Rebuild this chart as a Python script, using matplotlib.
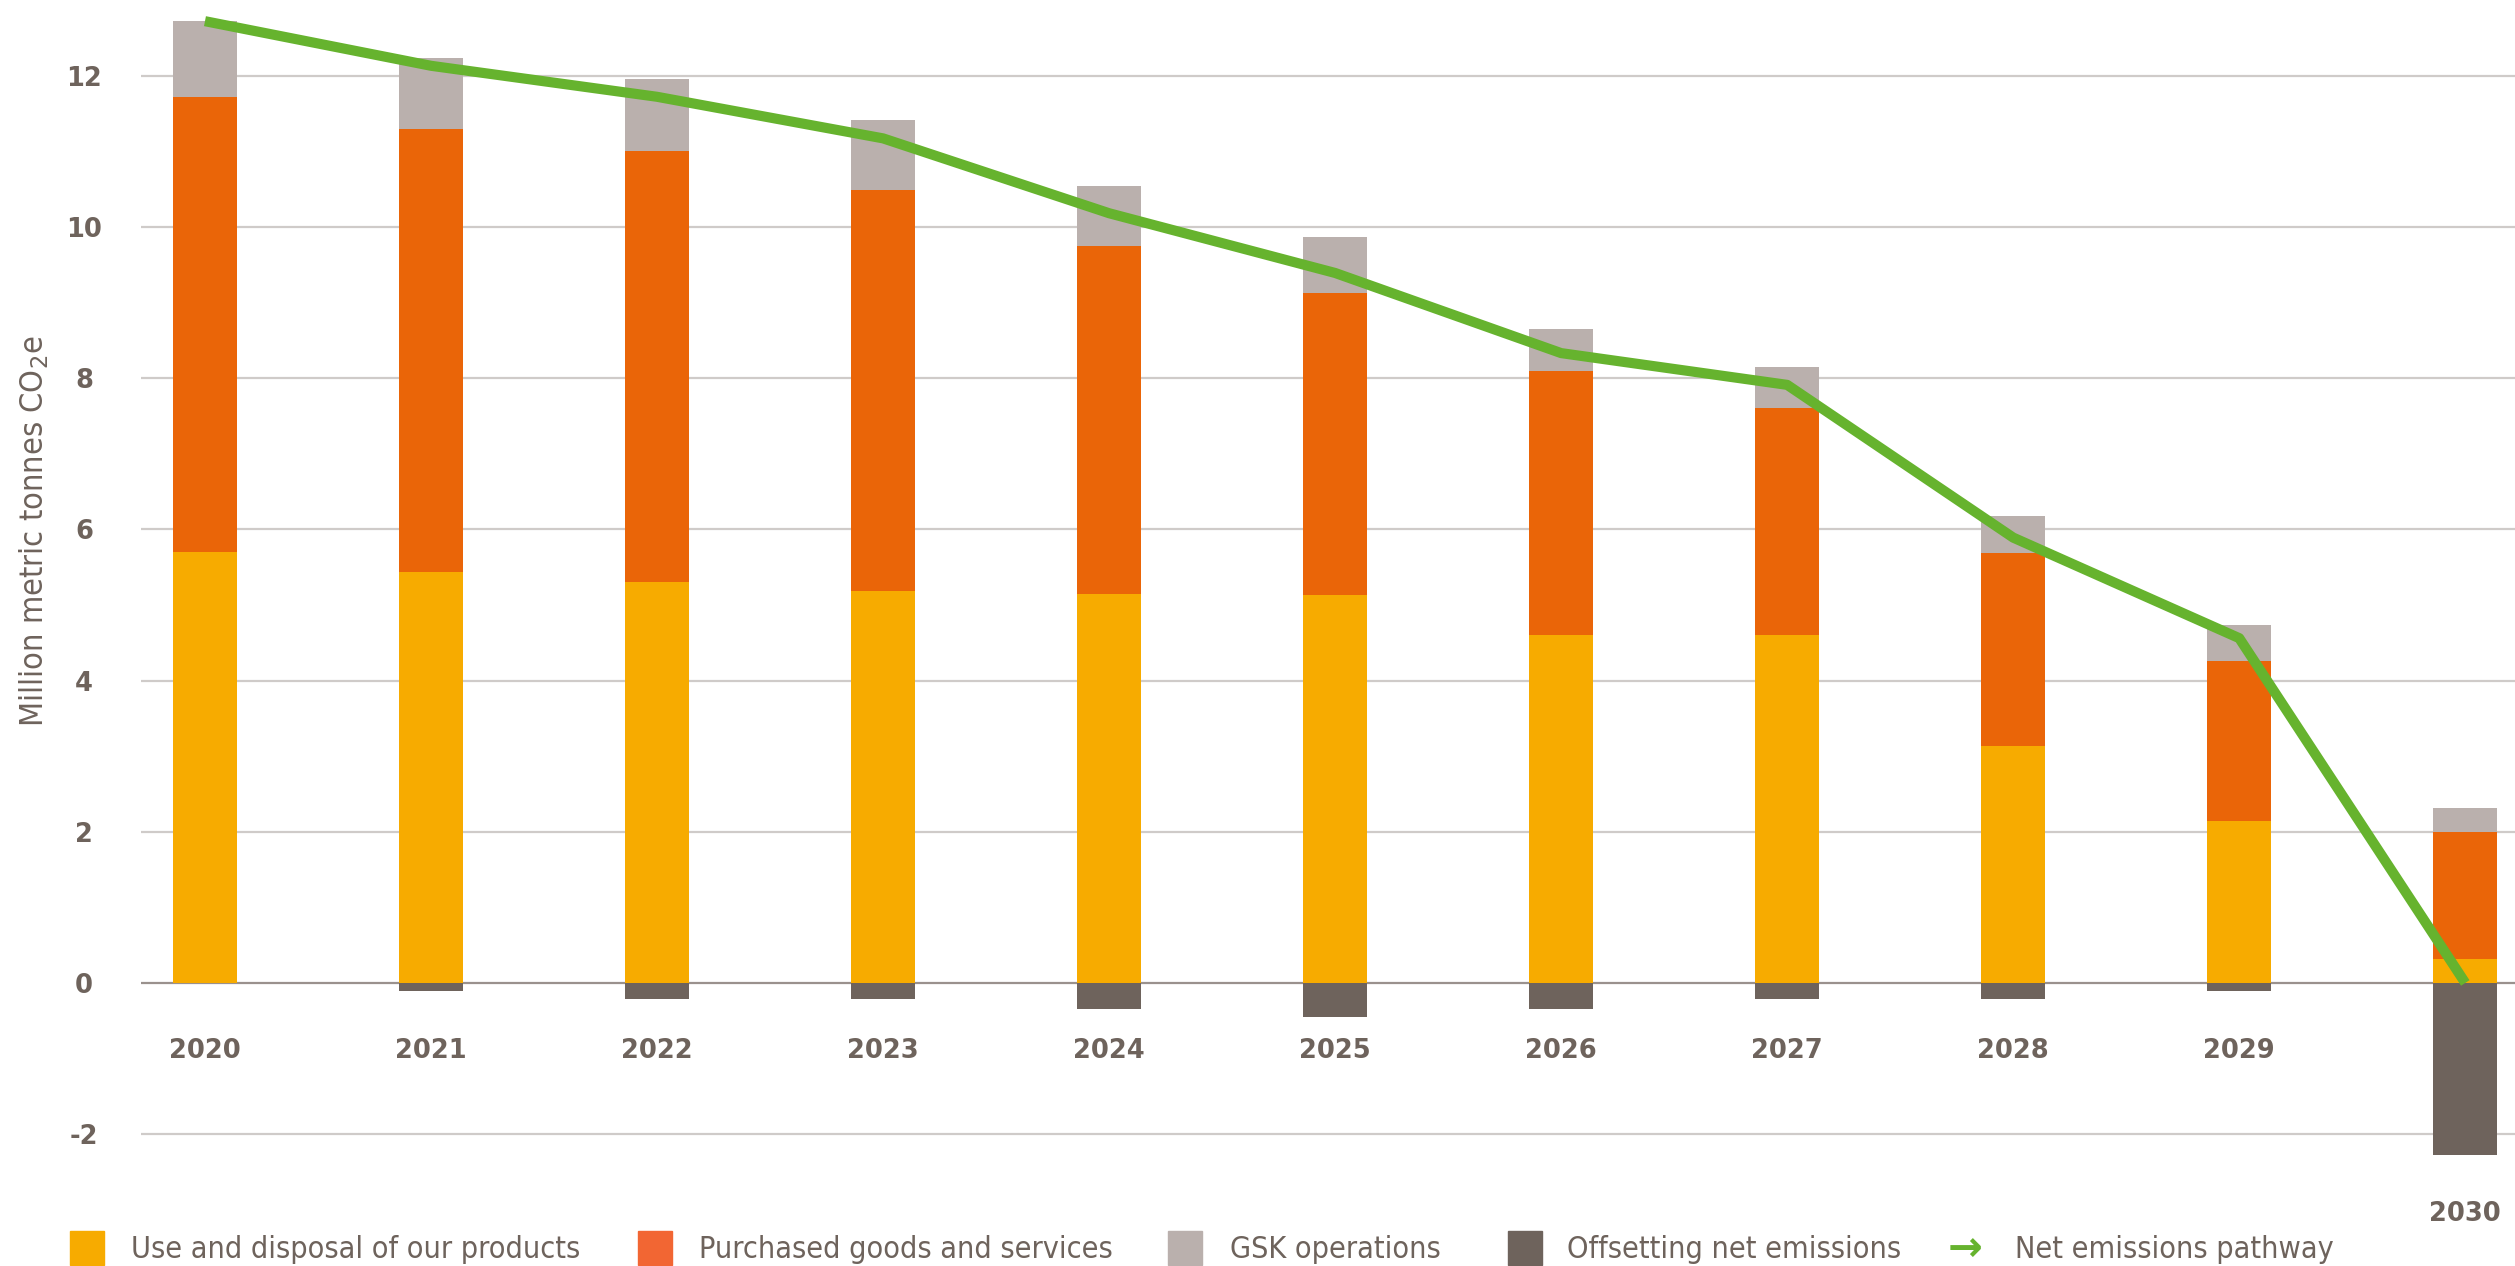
import numpy as np
import matplotlib.pyplot as plt
from matplotlib import font_manager
from matplotlib.patches import Rectangle

years = ['2020', '2021', '2022', '2023', '2024', '2025', '2026', '2027', '2028', '2029', '2030']
use_disposal = [5.70, 5.43, 5.30, 5.19, 5.15, 5.13, 4.60, 4.60, 3.14, 2.14, 0.32]
purchased = [6.02, 5.87, 5.70, 5.30, 4.60, 3.99, 3.50, 3.01, 2.54, 2.12, 1.68]
operations = [1.00, 0.93, 0.96, 0.92, 0.79, 0.74, 0.55, 0.53, 0.49, 0.47, 0.31]
offsetting = [0.0, -0.10, -0.21, -0.21, -0.34, -0.45, -0.34, -0.21, -0.21, -0.10, -2.27]
net_pathway = [12.72, 12.13, 11.72, 11.17, 10.18, 9.39, 8.33, 7.91, 5.89, 4.56, 0.0]
yticks = [-2, 0, 2, 4, 6, 8, 10, 12]

labels = ['Use and disposal of our products', 'Purchased goods and services',
          'GSK operations', 'Offsetting net emissions', 'Net emissions pathway']

c_yellow = '#F7AB00'
c_orange = '#EA6508'
c_orange_leg = '#F26633'
c_grey = '#BAB0AD'
c_dark = '#6E635C'
c_green = '#66B32E'
c_text = '#6E635C'


def find_narrow_font():
    # look for any condensed / narrow regular face that is installed
    best = None
    for f in font_manager.fontManager.ttflist:
        name = f.name.lower()
        path = f.fname.lower()
        narrow = ('narrow' in name or 'condensed' in name or 'condensed' in path
                  or 'narrow' in path or str(f.stretch) in ('condensed', 'semi-condensed'))
        if not narrow or f.style != 'normal':
            continue
        w = f.weight if isinstance(f.weight, int) else 400
        if best is None or abs(w - 400) < abs(best[0] - 400):
            best = (w, f.fname)
    if best:
        return font_manager.FontProperties(fname=best[1])
    return font_manager.FontProperties(family='DejaVu Sans')


narrow_fp = find_narrow_font()

W, H = 2515, 1266
fig = plt.figure(figsize=(W / 100, H / 100), dpi=100)
ax = fig.add_axes([141 / W, (H - 1172) / H, 1 - 141 / W, 1172 / H])
renderer = fig.canvas.get_renderer()

x = np.arange(len(years))
bw = 0.283
use = np.array(use_disposal)
pur = np.array(purchased)
ops = np.array(operations)
ax.bar(x, use, bw, color=c_yellow, zorder=2)
ax.bar(x, pur, bw, bottom=use, color=c_orange, zorder=2)
ax.bar(x, ops, bw, bottom=use + pur, color=c_grey, zorder=2)
ax.bar(x, offsetting, bw, color=c_dark, zorder=2)
ax.plot(x, net_pathway, color=c_green, lw=7.3, zorder=3, solid_capstyle='butt')

ax.set_xlim(-0.283, 10.22)
ax.set_ylim(-2.5, 13.0)
ax.set_yticks(yticks)
ax.set_yticklabels([str(t) for t in yticks], ha='center', fontsize=18.5,
                   fontweight='bold', color=c_text)
ax.tick_params(axis='y', length=0, pad=41)
ax.set_xticks([])
for t in yticks:
    ax.axhline(t, color='#9A918D' if t == 0 else '#CFCBC9', lw=1.6, zorder=1)
for s in ax.spines.values():
    s.set_visible(False)

# year labels under the bars, 2030 sits below its offset bar
for i, yr in enumerate(years):
    yy = -0.9 if yr != '2030' else -3.05
    ax.text(x[i], yy, yr, ha='center', va='center', fontsize=18.5,
            fontweight='bold', color=c_text, clip_on=False)


def fit(t, target, vertical=False):
    # scale font size so the text spans the measured length
    t.set_fontproperties(narrow_fp.copy())
    t.set_fontsize(20)
    bb = t.get_window_extent(renderer)
    cur = bb.height if vertical else bb.width
    t.set_fontsize(20 * target / cur)


ylab = fig.text(34 / W, 1 - 531 / H, 'Million metric tonnes CO$_2$e', rotation=90,
                ha='center', va='center', color=c_text)
fit(ylab, 392, vertical=True)

# legend row
ly = 1 - 1249 / H
sq = 34
items = [(70, 131, c_yellow), (638, 699, c_orange_leg), (1168, 1230, c_grey),
         (1508, 1567, c_dark)]
leg_texts = []
for (px, tx, col), lab in zip(items, labels[:4]):
    fig.patches.append(Rectangle((px / W, (H - 1248 - sq / 2) / H), sq / W, sq / H,
                                 transform=fig.transFigure, color=col))
    leg_texts.append(fig.text(tx / W, ly, lab, ha='left', va='center', color=c_text))
fig.text(1948 / W, ly, '\u2192', ha='left', va='center', fontsize=30,
         color=c_green, fontweight='bold', family=['DejaVu Sans'])
leg_texts.append(fig.text(2015 / W, ly, labels[4], ha='left', va='center', color=c_text))

fit(leg_texts[0], 447)
size = leg_texts[0].get_fontsize()
for t in leg_texts[1:]:
    t.set_fontproperties(narrow_fp.copy())
    t.set_fontsize(size)

fig.savefig('out.png', dpi=100)
